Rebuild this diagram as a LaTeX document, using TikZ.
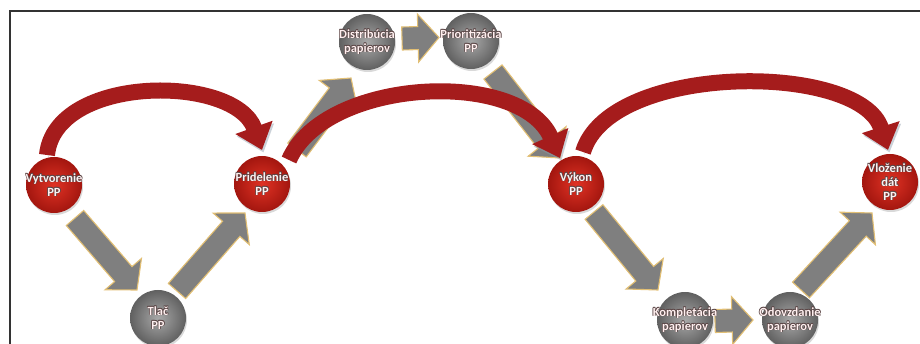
\documentclass[tikz,border=0pt]{standalone}
\usepackage{fontspec}
\newfontfamily\lblfont{Carlito}
\usetikzlibrary{calc,arrows.meta,shadows}
\definecolor{redc}{HTML}{E03224}
\definecolor{redd}{HTML}{A3160F}
\definecolor{arcc}{HTML}{A51C1C}
\definecolor{grayc}{HTML}{A8A8A8}
\definecolor{grayd}{HTML}{606060}
\definecolor{arrg}{HTML}{7F7F7F}
\definecolor{arrb}{HTML}{E2BF74}
\definecolor{halo}{HTML}{5A4545}
\definecolor{framec}{HTML}{333333}
\definecolor{arcsh}{HTML}{8C9AA8}
\pgfdeclarelayer{arrowlayer}
\pgfdeclarelayer{arclayer}
\pgfsetlayers{arrowlayer,arclayer,main}
\newcommand\hl[1]{\leavevmode
  \rlap{\textcolor{halo}{\kern-.6pt\raisebox{-.5pt}{#1}}}%
  \rlap{\textcolor{halo}{\kern.6pt\raisebox{-.6pt}{#1}}}%
  \rlap{\textcolor{halo}{\kern.5pt\raisebox{.5pt}{#1}}}%
  \rlap{\textcolor{halo}{\kern-.5pt\raisebox{.5pt}{#1}}}%
  #1}
\newcommand\blockarrow[2]{%
  \draw[garrow] ($(#1)!11.5pt!90:(#2)$) -- ($(#2)!21pt!(#1)!11.5pt!90:(#2)$)
    -- ($(#2)!21pt!(#1)!24pt!90:(#2)$) -- (#2)
    -- ($(#2)!21pt!(#1)!24pt!-90:(#2)$) -- ($(#2)!21pt!(#1)!11.5pt!-90:(#2)$)
    -- ($(#1)!11.5pt!-90:(#2)$) -- cycle;}
\tikzset{
  ball/.style={circle, minimum size=56pt, inner sep=0pt,
    drop shadow={opacity=0.3, shadow xshift=1pt, shadow yshift=-2pt}},
  redball/.style={ball, inner color=redc, outer color=redd},
  grayball/.style={ball, inner color=grayc, outer color=grayd},
  lbl/.style={text=white!94!red, font=\lblfont\bfseries\fontsize{12.5}{14}\selectfont,
    align=center, inner sep=0pt},
  garrow/.style={fill=arrg, draw=arrb, line width=1.1pt, line join=miter},
  redarc/.style={draw=arcc, line width=16pt, -{Triangle[length=24pt,width=38pt]},
    preaction={draw=arcsh, opacity=0.45, transform canvas={xshift=1.5pt,yshift=-2.5pt}}},
}
\begin{document}
\begin{tikzpicture}[x=1pt,y=-1pt]
\useasboundingbox (0,0) rectangle (920,344);
\draw[framec, line width=1.8pt] (10,350) -- (10,11) -- (925,11);

\node[redball, label={[lbl,name=vyt-l]center:{\hl{Vytvorenie}\\\hl{PP}}}] (vyt) at (54,185) {};
\node[redball, label={[lbl,name=pri-l]center:{\hl{Pridelenie}\\\hl{PP}}}] (pri) at (262,184) {};
\node[grayball, label={[lbl,name=tla-l]center:{\hl{Tlač}\\\hl{PP}}}] (tla) at (158,318) {};
\node[grayball, label={[lbl,name=dis-l]center:{\hl{Distribúcia}\\\hl{papierov}}}] (dis) at (367,42) {};
\node[grayball, label={[lbl,name=prio-l]center:{\hl{Prioritizácia}\\\hl{PP}}}] (prio) at (471,41) {};
\node[redball, label={[lbl,name=vyk-l]center:{\hl{Výkon}\\\hl{PP}}}] (vyk) at (576,184) {};
\node[redball, label={[lbl,name=vlo-l]center:{\hl{Vloženie}\\\hl{dát}\\\hl{PP}}}] (vlo) at (890,182) {};
\node[grayball, label={[lbl,name=kom-l]center:{\hl{Kompletácia}\\\hl{papierov}}}] (kom) at (685,320) {};
\node[grayball, label={[lbl,name=odo-l]center:{\hl{Odovzdanie}\\\hl{papierov}}}] (odo) at (790,320) {};

\coordinate (a1s) at ($(vyt)+(21,33)$);  \coordinate (a1t) at ($(tla)+(-21,-28)$);
\coordinate (a2s) at ($(tla)+(19,-27)$);  \coordinate (a2t) at ($(pri)+(-17,29)$);
\coordinate (a3s) at ($(pri)+(35,-34)$);  \coordinate (a3t) at ($(dis)+(-16,36)$);
\coordinate (a4s) at ($(dis)+(35,-3.5)$); \coordinate (a4t) at ($(prio)+(-32,-3.5)$);
\coordinate (a5s) at ($(prio)+(22,31)$);  \coordinate (a5t) at ($(vyk)+(-16,-26)$);
\coordinate (a6s) at ($(vyk)+(18,28)$);   \coordinate (a6t) at ($(kom)+(-27,-30)$);
\coordinate (a7s) at ($(kom)+(30,1)$);    \coordinate (a7t) at ($(odo)+(-37,0)$);
\coordinate (a8s) at ($(odo)+(11,-30)$);  \coordinate (a8t) at ($(vlo)+(-18,31)$);

\begin{pgfonlayer}{arrowlayer}
\blockarrow{a1s}{a1t}
\blockarrow{a2s}{a2t}
\blockarrow{a3s}{a3t}
\blockarrow{a4s}{a4t}
\blockarrow{a5s}{a5t}
\blockarrow{a6s}{a6t}
\blockarrow{a7s}{a7t}
\blockarrow{a8s}{a8t}
\end{pgfonlayer}

\begin{pgfonlayer}{arclayer}
\draw[redarc] ($(vyt)+(-7,-30)$) .. controls +(8,-81) and +(-27,-76) .. ($(pri)+(0,-34)$);
\draw[redarc] ($(pri)+(27,-24)$) .. controls +(36,-82) and +(-40,-90) .. ($(vyk)+(-16,-26)$);
\draw[redarc] ($(vyk)+(7,-32)$) .. controls +(27,-90) and +(-28,-88) .. ($(vlo)+(-2,-32)$);
\end{pgfonlayer}
\end{tikzpicture}
\end{document}
